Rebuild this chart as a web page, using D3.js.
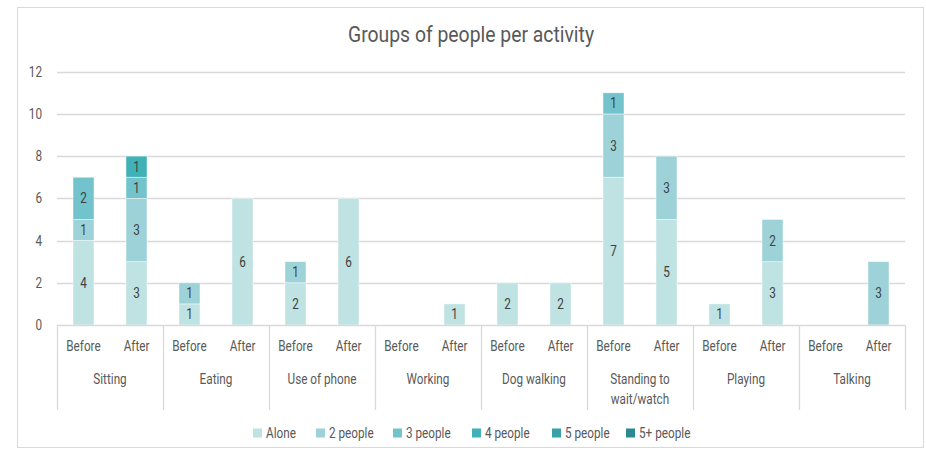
<!DOCTYPE html>
<html>
<head>
<meta charset="utf-8">
<script src="https://cdn.jsdelivr.net/npm/d3@7/dist/d3.min.js"></script>
<style>
  html, body { margin: 0; padding: 0; background: #ffffff; }
  svg { display: block; font-family: "Roboto", "Liberation Sans", sans-serif; }
  /* narrow lettering: squeeze each label horizontally about its anchor */
  svg text { transform-box: fill-box; transform: scaleX(0.84); }
  svg text.title { transform: scaleX(0.88); }
  svg text.mid { transform-origin: center; }
  svg text.end { transform-origin: right center; }
  svg text.start { transform-origin: left center; }
</style>
</head>
<body>
<svg id="chart" width="926" height="457"></svg>
<script>
// Activities observed, each counted before and after
const categories = ["Sitting", "Eating", "Use of phone", "Working", "Dog walking", "Standing to wait/watch", "Playing", "Talking"];
const phases = ["Before", "After"];

// Group sizes (stack order, bottom to top)
const seriesNames = ["Alone", "2 people", "3 people", "4 people", "5 people", "5+ people"];
const seriesColors = ["#bfe2e2", "#9dd3d8", "#72c3cb", "#40b2b7", "#37a2a6", "#2a8a90"];

// Counts listed as Before, After for each activity in order
const alone     = [4, 3, 1, 6, 2, 6, 0, 1, 2, 2, 7, 5, 1, 3, 0, 0];
const twoPeople = [1, 3, 1, 0, 1, 0, 0, 0, 0, 0, 3, 3, 0, 2, 0, 3];
const three     = [2, 1, 0, 0, 0, 0, 0, 0, 0, 0, 1, 0, 0, 0, 0, 0];
const four      = [0, 1, 0, 0, 0, 0, 0, 0, 0, 0, 0, 0, 0, 0, 0, 0];
const five      = [0, 0, 0, 0, 0, 0, 0, 0, 0, 0, 0, 0, 0, 0, 0, 0];
const fivePlus  = [0, 0, 0, 0, 0, 0, 0, 0, 0, 0, 0, 0, 0, 0, 0, 0];

const yTicks = [0, 2, 4, 6, 8, 10, 12];
const title = "Groups of people per activity";

const seriesValues = [alone, twoPeople, three, four, five, fivePlus];

// Build one row per bar
const rows = [];
categories.forEach((c, ci) => {
  phases.forEach((p, pi) => {
    const row = { category: c, phase: p };
    seriesNames.forEach((s, si) => { row[s] = seriesValues[si][ci * 2 + pi]; });
    rows.push(row);
  });
});

const svg = d3.select("#chart");
const x0 = 57, x1 = 905, yBase = 325, yTop = 71.7;
const textColor = "#595959";

// Outer chart frame
svg.append("rect")
  .attr("x", 17.5).attr("y", 7.5)
  .attr("width", 906).attr("height", 440)
  .attr("fill", "#ffffff")
  .attr("stroke", "#d9d9d9").attr("stroke-width", 1);

const xCat = d3.scaleBand().domain(categories).range([x0, x1]).padding(0);
const xPhase = d3.scaleBand().domain(phases).range([0, xCat.bandwidth()])
  .paddingInner(0.604).paddingOuter(0.302);
const y = d3.scaleLinear().domain([0, 12]).range([yBase, yTop]);

// Title
svg.append("text")
  .attr("class", "mid title")
  .attr("x", 471).attr("y", 42)
  .attr("text-anchor", "middle")
  .attr("font-size", 22)
  .attr("fill", textColor)
  .text(title);

// Horizontal gridlines
svg.append("g")
  .selectAll("line")
  .data(yTicks.filter(t => t !== 0))
  .join("line")
  .attr("x1", x0).attr("x2", x1)
  .attr("y1", d => Math.round(y(d)) + 0.5).attr("y2", d => Math.round(y(d)) + 0.5)
  .attr("stroke", "#d9d9d9").attr("stroke-width", 1.3);

// Y axis labels
const yAxis = d3.axisLeft(y).tickValues(yTicks).tickSize(0).tickPadding(0).tickFormat(d3.format("d"));
const yg = svg.append("g").attr("transform", `translate(42,0)`).call(yAxis);
yg.select(".domain").remove();
yg.selectAll("text")
  .attr("class", "end")
  .attr("font-size", 14)
  .attr("fill", textColor)
  .attr("font-family", null);
yg.attr("font-family", null).attr("font-size", null);

// Stacked bars
const stack = d3.stack().keys(seriesNames);
const stacked = stack(rows);

const barGroups = svg.append("g")
  .selectAll("g")
  .data(stacked)
  .join("g")
  .attr("fill", (d, i) => seriesColors[i]);

barGroups.selectAll("rect")
  .data(d => d.filter(s => s[1] - s[0] > 0).map(s => ({ seg: s, key: d.key })))
  .join("rect")
  .attr("x", d => xCat(d.seg.data.category) + xPhase(d.seg.data.phase))
  .attr("width", xPhase.bandwidth())
  .attr("y", d => y(d.seg[1]))
  .attr("height", d => y(d.seg[0]) - y(d.seg[1]))
  .attr("stroke", "#ffffff").attr("stroke-opacity", 0.55).attr("stroke-width", 0.8);

// Value labels inside segments
barGroups.selectAll("text")
  .data(d => d.filter(s => s[1] - s[0] > 0).map(s => ({ seg: s, key: d.key })))
  .join("text")
  .attr("class", "mid")
  .attr("x", d => xCat(d.seg.data.category) + xPhase(d.seg.data.phase) + xPhase.bandwidth() / 2)
  .attr("y", d => (y(d.seg[0]) + y(d.seg[1])) / 2)
  .attr("dy", "0.36em")
  .attr("text-anchor", "middle")
  .attr("font-size", 14)
  .attr("fill", "#404040")
  .text(d => d.seg[1] - d.seg[0]);

// Baseline
svg.append("line")
  .attr("x1", x0).attr("x2", x1)
  .attr("y1", yBase + 0.5).attr("y2", yBase + 0.5)
  .attr("stroke", "#d9d9d9").attr("stroke-width", 1.3);

// Category separators below the baseline
const bounds = categories.map(c => xCat(c)).concat([x1]);
svg.append("g")
  .selectAll("line")
  .data(bounds)
  .join("line")
  .attr("x1", d => Math.round(d) + 0.5).attr("x2", d => Math.round(d) + 0.5)
  .attr("y1", yBase).attr("y2", 410)
  .attr("stroke", "#d9d9d9").attr("stroke-width", 1.3);

// Phase labels
svg.append("g")
  .selectAll("text")
  .data(rows)
  .join("text")
  .attr("class", "mid")
  .attr("x", d => xCat(d.category) + xPhase(d.phase) + xPhase.bandwidth() / 2)
  .attr("y", 351)
  .attr("text-anchor", "middle")
  .attr("font-size", 14)
  .attr("fill", textColor)
  .text(d => d.phase);

// Category labels, wrapped onto two lines when too wide for the band
const wrapWidth = 80;
svg.append("g")
  .selectAll("g")
  .data(categories)
  .join("g")
  .each(function(d) {
    const g = d3.select(this);
    const cx = xCat(d) + xCat.bandwidth() / 2;
    const lines = [];
    let current = [];
    const probe = g.append("text").attr("font-size", 14).attr("visibility", "hidden");
    d.split(" ").forEach(w => {
      const attempt = current.concat([w]).join(" ");
      probe.text(attempt);
      if (probe.node().getComputedTextLength() * 0.84 > wrapWidth && current.length) {
        lines.push(current.join(" "));
        current = [w];
      } else {
        current.push(w);
      }
    });
    lines.push(current.join(" "));
    probe.remove();
    lines.forEach((ln, i) => {
      g.append("text")
        .attr("class", "mid")
        .attr("x", cx)
        .attr("y", 384 + i * 20)
        .attr("text-anchor", "middle")
        .attr("font-size", 14)
        .attr("fill", textColor)
        .text(ln);
    });
  });

// Legend
const legendX = [253, 316, 393, 472, 552, 626];
const legend = svg.append("g")
  .selectAll("g")
  .data(seriesNames)
  .join("g")
  .attr("transform", (d, i) => `translate(${legendX[i]},433)`);

legend.append("rect")
  .attr("x", 0).attr("y", -4.5)
  .attr("width", 9).attr("height", 9)
  .attr("fill", (d, i) => seriesColors[i]);

legend.append("text")
  .attr("class", "start")
  .attr("x", 13).attr("y", 0)
  .attr("dy", "0.35em")
  .attr("font-size", 14)
  .attr("fill", textColor)
  .text(d => d);
</script>
</body>
</html>
